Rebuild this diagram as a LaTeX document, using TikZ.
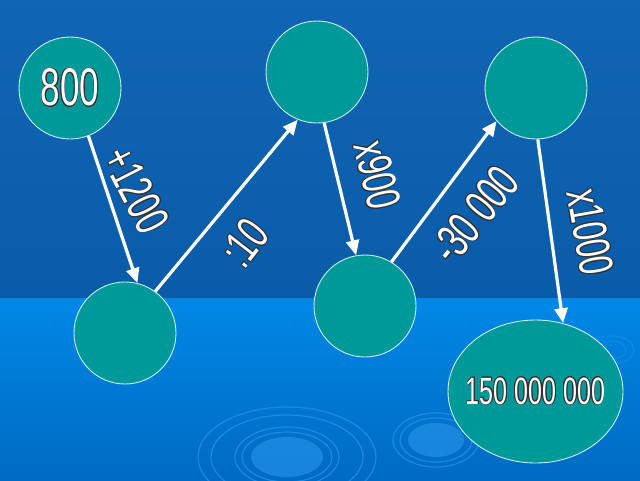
\documentclass[tikz,border=0pt]{standalone}
\usepackage{fontspec}
\newfontfamily\narrowfont[FakeStretch=0.66]{Liberation Sans}
\usepackage{contour}
\contourlength{0.7pt}
\usetikzlibrary{arrows.meta,shapes.geometric}
\definecolor{bgtopA}{RGB}{16,101,180}
\definecolor{bgtopB}{RGB}{10,92,168}
\definecolor{bgbotA}{RGB}{0,136,230}
\definecolor{bgbotB}{RGB}{0,106,194}
\definecolor{ripple}{RGB}{40,150,235}
\definecolor{teal}{RGB}{0,153,153}
\definecolor{rim}{RGB}{200,240,240}
\definecolor{outl}{RGB}{50,50,50}
\begin{document}
\begin{tikzpicture}[x=1pt,y=-1pt,
  ball/.style={circle,fill=teal,draw=rim,line width=0.9pt,minimum size=102pt,inner sep=0pt},
  bigball/.style={ellipse,fill=teal,draw=rim,line width=0.9pt,minimum width=175pt,minimum height=143pt,inner sep=0pt},
  numtext/.style={text=white,font=\narrowfont\fontsize{53}{53}\selectfont},
  labtext/.style={text=white,font=\narrowfont\fontsize{48}{48}\selectfont,inner sep=0pt},
  link/.style={draw=white,line width=3.2pt,-{Triangle[width=13pt,length=15pt]}},
  rip/.style={draw=ripple,line width=1.2pt,opacity=0.7}
]
\useasboundingbox (0,0) rectangle (640,480);
% background
\shade[top color=bgtopA,bottom color=bgtopB] (0,0) rectangle (640,298);
\shade[top color=bgbotA,bottom color=bgbotB] (0,298) rectangle (640,480);
% ripples
\begin{scope}
\clip (0,298) rectangle (640,480);
\draw[rip] (287,457) ellipse [x radius=89pt,y radius=50pt];
\draw[rip] (287,457) ellipse [x radius=76pt,y radius=42pt];
\draw[rip] (287,457) ellipse [x radius=52pt,y radius=30pt];
\draw[rip] (287,457) ellipse [x radius=45pt,y radius=25pt];
\fill[ripple,opacity=0.6] (287,457) ellipse [x radius=36pt,y radius=20pt];
\draw[rip] (436,440) ellipse [x radius=43pt,y radius=27pt];
\draw[rip] (436,440) ellipse [x radius=36pt,y radius=22pt];
\fill[ripple,opacity=0.6] (436,440) ellipse [x radius=28pt,y radius=17pt];
\draw[rip,opacity=0.4] (612,350) ellipse [x radius=22pt,y radius=14pt];
\draw[rip,opacity=0.4] (612,350) ellipse [x radius=14pt,y radius=9pt];
\end{scope}
% nodes
\node[ball] (a) at (70,88) {};
\node[ball] (b) at (317,72) {};
\node[ball] (c) at (536,88) {};
\node[ball] (d) at (125,333) {};
\node[ball] (e) at (365,306) {};
\node[bigball] (f) at (535.5,391.5) {};
\node[numtext] (ta) at (a.center) {\contour{outl}{800}};
\node[numtext,font=\narrowfont\fontsize{38}{38}\selectfont] (tf) at (f.center) {\contour{outl}{150 000 000}};
% connectors
\draw[link] (a.-69) -- (d.76);
\draw[link] (d.54) -- (b.-112);
\draw[link] (b.-82) -- (e.100);
\draw[link] (e.59) -- (c.-140);
\draw[link] (c.-88) -- (f.68);
% labels
\node[labtext,rotate=-63] (l1) at (136,190) {\contour{outl}{+1200}};
\node[labtext,rotate=52] (l2) at (245,243) {\contour{outl}{:10}};
\node[labtext,rotate=-77] (l3) at (377,175) {\contour{outl}{x900}};
\node[labtext,rotate=51] (l4) at (475,215) {\contour{outl}{-30 000}};
\node[labtext,rotate=-80] (l5) at (590,232) {\contour{outl}{x1000}};
\end{tikzpicture}
\end{document}
